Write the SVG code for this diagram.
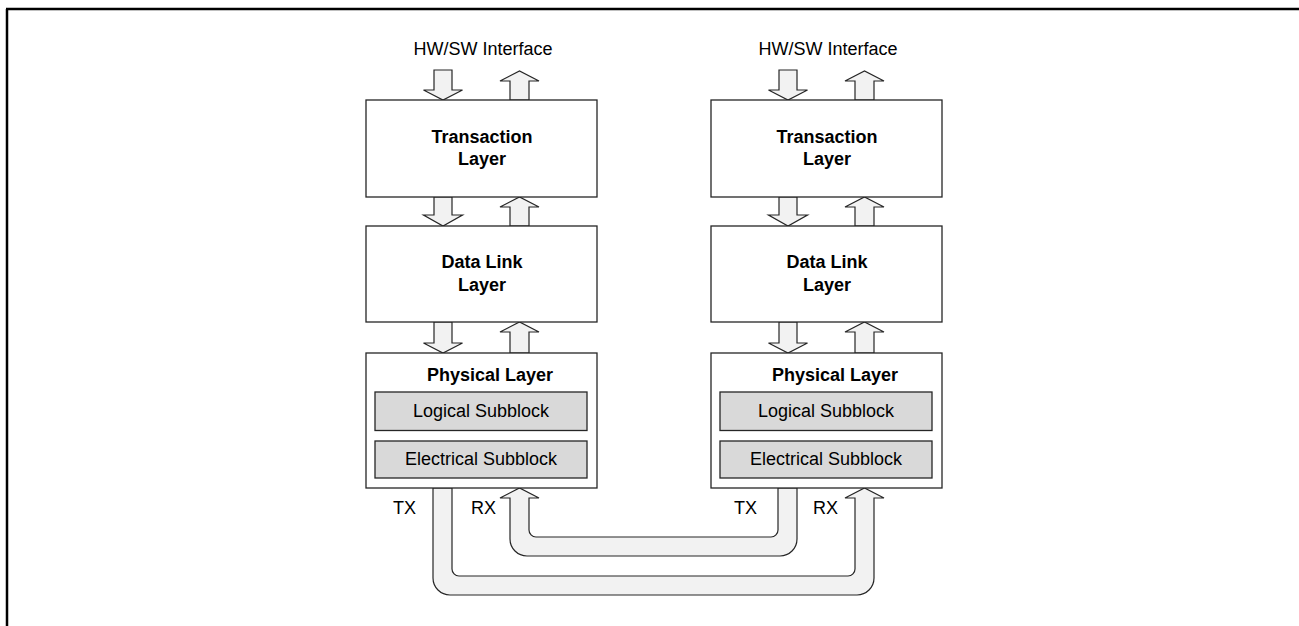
<svg xmlns="http://www.w3.org/2000/svg" width="1299" height="626" viewBox="0 0 1299 626">
  <style>
    .box { fill: #ffffff; stroke: #262626; stroke-width: 1.3; }
    .sub { fill: #d9d9d9; stroke: #262626; stroke-width: 1.3; }
    .arr { fill: #f2f2f2; stroke: #262626; stroke-width: 1.2; stroke-linejoin: miter; }
    .t { font-family: "Liberation Sans", Arial, sans-serif; font-size: 18px; fill: #000; }
    .b { font-weight: bold; }
    .c { text-anchor: middle; }
    .frame { stroke: #000; stroke-width: 2.5; fill: none; }
  </style>
  <defs>
    <polygon id="dn1" points="434,70 452,70 452,90 462.5,90 443,100 423.5,90 434,90"/>
    <polygon id="up1" points="510,100 510,81 500,81 519.5,71 539,81 529,81 529,100"/>
    <polygon id="dn2" points="434,197 452,197 452,215 462.5,215 443,226 423.5,215 434,215"/>
    <polygon id="up2" points="510,226 510,207 500,207 519.5,197 539,207 529,207 529,226"/>
    <polygon id="dn3" points="434,322 452,322 452,343 462.5,343 443,353 423.5,343 434,343"/>
    <polygon id="up3" points="510,353 510,332 500,332 519.5,322 539,332 529,332 529,353"/>
  </defs>

  <g id="frame">
    <line class="frame" x1="6" y1="9" x2="1299" y2="9"/>
    <line class="frame" x1="7" y1="9" x2="7" y2="626"/>
  </g>

  <g id="connectors">
    <g id="left-arrows" class="arr">
      <use href="#dn1"/><use href="#up1"/>
      <use href="#dn2"/><use href="#up2"/>
      <use href="#dn3"/><use href="#up3"/>
    </g>
    <g id="right-arrows" class="arr" transform="translate(345,0)">
      <use href="#dn1"/><use href="#up1"/>
      <use href="#dn2"/><use href="#up2"/>
      <use href="#dn3"/><use href="#up3"/>
    </g>
    <path id="link-outer" class="arr" d="M 433,488 L 452,488 L 452,569 A 7 7 0 0 0 459,576 L 848,576 A 7 7 0 0 0 855,569 L 855,498 L 845,498 L 864.5,488 L 884,498 L 874,498 L 874,578 A 17 17 0 0 1 857,595 L 450,595 A 17 17 0 0 1 433,578 Z"/>
    <path id="link-inner" class="arr" d="M 510,498 L 500,498 L 519.5,488 L 539,498 L 529,498 L 529,530 A 7 7 0 0 0 536,537 L 771,537 A 7 7 0 0 0 778,530 L 778,488 L 797,488 L 797,539 A 17 17 0 0 1 780,556 L 527,556 A 17 17 0 0 1 510,539 Z"/>
    <text class="t" x="393" y="514">TX</text>
    <text class="t" x="471" y="514">RX</text>
    <text class="t" x="734" y="514">TX</text>
    <text class="t" x="813" y="514">RX</text>
  </g>

  <g id="left-hwsw"><text class="t c" x="483" y="55">HW/SW Interface</text></g>
  <g id="left-transaction">
    <rect class="box" x="366" y="100" width="231" height="97"/>
    <text class="t b c" x="482" y="143">Transaction</text>
    <text class="t b c" x="482" y="165">Layer</text>
  </g>
  <g id="left-datalink">
    <rect class="box" x="366" y="226" width="231" height="96"/>
    <text class="t b c" x="482" y="268">Data Link</text>
    <text class="t b c" x="482" y="291">Layer</text>
  </g>
  <g id="left-physical">
    <rect class="box" x="366" y="353" width="231" height="135"/>
    <text class="t b c" x="490" y="381">Physical Layer</text>
    <rect class="sub" x="375" y="392" width="212" height="38.5"/>
    <text class="t c" x="481" y="417">Logical Subblock</text>
    <rect class="sub" x="375" y="441" width="212" height="37"/>
    <text class="t c" x="481" y="465">Electrical Subblock</text>
  </g>

  <g id="right-hwsw"><text class="t c" x="828" y="55">HW/SW Interface</text></g>
  <g id="right-transaction" transform="translate(345,0)">
    <rect class="box" x="366" y="100" width="231" height="97"/>
    <text class="t b c" x="482" y="143">Transaction</text>
    <text class="t b c" x="482" y="165">Layer</text>
  </g>
  <g id="right-datalink" transform="translate(345,0)">
    <rect class="box" x="366" y="226" width="231" height="96"/>
    <text class="t b c" x="482" y="268">Data Link</text>
    <text class="t b c" x="482" y="291">Layer</text>
  </g>
  <g id="right-physical" transform="translate(345,0)">
    <rect class="box" x="366" y="353" width="231" height="135"/>
    <text class="t b c" x="490" y="381">Physical Layer</text>
    <rect class="sub" x="375" y="392" width="212" height="38.5"/>
    <text class="t c" x="481" y="417">Logical Subblock</text>
    <rect class="sub" x="375" y="441" width="212" height="37"/>
    <text class="t c" x="481" y="465">Electrical Subblock</text>
  </g>
</svg>
